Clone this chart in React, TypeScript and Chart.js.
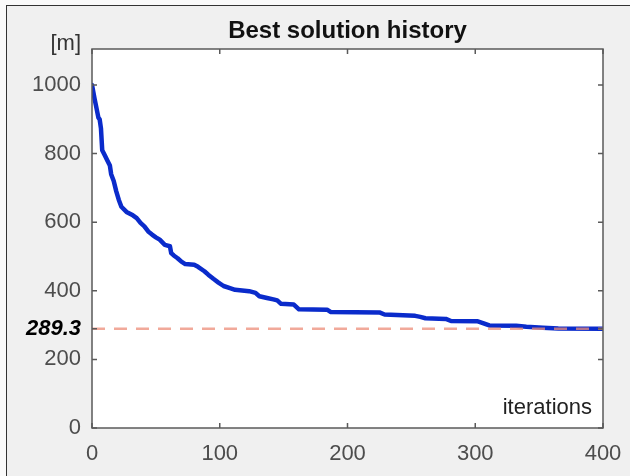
import React, { useEffect, useRef } from "react";
import { Chart, registerables } from "chart.js";

Chart.register(...registerables);

const iterations = [0, 2, 3, 5, 6, 7, 8, 10, 12, 14, 15, 17, 19, 21, 23, 27, 32, 35, 38, 41, 44, 47, 50, 53, 57, 61, 62, 64, 67, 70, 73, 80, 83, 88, 91, 95, 99, 103, 108, 112, 123, 128, 131, 137, 142, 145, 148, 158, 162, 184, 187, 225, 229, 253, 257, 261, 277, 281, 302, 306, 311, 332, 340, 353, 365, 400];
const bestLength = [1000, 960, 942, 905, 900, 874, 810, 795, 780, 765, 740, 720, 690, 665, 645, 630, 620, 612, 598, 588, 573, 564, 556, 549, 534, 530, 510, 503, 495, 485, 478, 476, 470, 457, 447, 435, 424, 414, 408, 403, 399, 394, 384, 379, 375, 372, 362, 360, 346, 345, 338, 337, 331, 327, 324, 320, 318, 312, 311, 306, 299, 298, 295, 292, 289.8, 289.3];
const bestValue = 289.3;
const xTicks = [0, 100, 200, 300, 400];
const yTicks = [0, 200, bestValue, 400, 600, 800, 1000];
const titleText = "Best solution history";
const yUnitText = "[m]";
const xLabelText = "iterations";

const FAMILY = '"Liberation Sans", Arial, Helvetica, sans-serif';

export default function App() {
  const ref = useRef<HTMLCanvasElement | null>(null);

  useEffect(() => {
    const canvas = ref.current;
    if (!canvas) return;

    const framePlugin = {
      id: "framePlugin",
      beforeDatasetsDraw(chart: any) {
        const { ctx, chartArea } = chart;
        ctx.save();
        ctx.fillStyle = "#ffffff";
        ctx.fillRect(chartArea.left, chartArea.top, chartArea.right - chartArea.left, chartArea.bottom - chartArea.top);
        ctx.restore();
      },
      afterDatasetsDraw(chart: any) {
        const { ctx, chartArea, scales } = chart;
        const { left, right, top, bottom } = chartArea;
        ctx.save();
        ctx.strokeStyle = "#5a5a5a";
        ctx.lineWidth = 1.5;
        ctx.strokeRect(left, top, right - left, bottom - top);
        const tl = 5;
        ctx.beginPath();
        scales.x.ticks.forEach((t: any) => {
          const px = scales.x.getPixelForValue(t.value);
          ctx.moveTo(px, bottom);
          ctx.lineTo(px, bottom - tl);
          ctx.moveTo(px, top);
          ctx.lineTo(px, top + tl);
        });
        scales.y.ticks.forEach((t: any) => {
          const py = scales.y.getPixelForValue(t.value);
          ctx.moveTo(left, py);
          ctx.lineTo(left + tl, py);
          ctx.moveTo(right, py);
          ctx.lineTo(right - tl, py);
        });
        ctx.stroke();

        ctx.fillStyle = "#111111";
        ctx.font = `bold 24px ${FAMILY}`;
        ctx.textAlign = "center";
        ctx.textBaseline = "alphabetic";
        ctx.fillText(titleText, (left + right) / 2, 38);

        ctx.fillStyle = "#333333";
        ctx.font = `22px ${FAMILY}`;
        ctx.textAlign = "right";
        ctx.textBaseline = "middle";
        ctx.fillText(yUnitText, 81, 44);

        ctx.fillStyle = "#222222";
        ctx.textAlign = "right";
        ctx.textBaseline = "alphabetic";
        ctx.fillText(xLabelText, right - 11, bottom - 14);
        ctx.restore();
      },
    };

    const chart = new Chart(canvas, {
      type: "line",
      data: {
        datasets: [
          {
            label: "best",
            data: iterations.map((x, i) => ({ x, y: bestLength[i] })),
            borderColor: "#0a2bcb",
            borderWidth: 4.5,
            borderJoinStyle: "round",
            borderCapStyle: "round",
            pointRadius: 0,
            tension: 0,
            fill: false,
            order: 2,
          },
          {
            label: "optimum",
            data: [
              { x: xTicks[0], y: bestValue },
              { x: xTicks[xTicks.length - 1], y: bestValue },
            ],
            borderColor: "rgba(236, 140, 120, 0.75)",
            borderWidth: 2.5,
            borderDash: [13, 9],
            pointRadius: 0,
            fill: false,
            order: 1,
          },
        ],
      },
      options: {
        animation: false,
        responsive: false,
        devicePixelRatio: 1,
        layout: { padding: { left: 0, right: 27, top: 49, bottom: 0 } },
        plugins: {
          legend: { display: false },
          tooltip: { enabled: false },
          title: { display: false },
        },
        scales: {
          x: {
            type: "linear",
            min: 0,
            max: 400,
            afterBuildTicks(scale: any) {
              scale.ticks = xTicks.map((v) => ({ value: v }));
            },
            afterFit(scale: any) {
              scale.height = 48;
              scale.paddingLeft = 0;
              scale.paddingRight = 0;
            },
            ticks: {
              padding: 13,
              maxRotation: 0,
              color: "#4d4d4d",
              font: { family: FAMILY, size: 22 },
              callback: (v: any) => String(v),
            },
            grid: { display: false, drawTicks: false },
            border: { display: false },
          },
          y: {
            type: "linear",
            min: 0,
            max: 1105,
            afterBuildTicks(scale: any) {
              scale.ticks = yTicks.map((v) => ({ value: v }));
            },
            afterFit(scale: any) {
              scale.width = 92;
              scale.paddingTop = 0;
              scale.paddingBottom = 0;
            },
            ticks: {
              padding: 11,
              color: (ctx: any) => (ctx.tick && ctx.tick.value === bestValue ? "#000000" : "#4d4d4d"),
              font: (ctx: any) =>
                ctx.tick && ctx.tick.value === bestValue
                  ? { family: FAMILY, size: 22, weight: "bold", style: "italic" }
                  : { family: FAMILY, size: 22 },
              callback: (v: any) => String(v),
            },
            grid: { display: false, drawTicks: false },
            border: { display: false },
          },
        },
      },
      plugins: [framePlugin],
    });

    return () => chart.destroy();
  }, []);

  return (
    <div style={{ position: "fixed", left: 0, top: 0, width: 630, height: 476, overflow: "hidden", background: "#fafafa" }}>
      <div
        style={{
          position: "absolute",
          left: 6,
          top: 5,
          width: 640,
          height: 490,
          border: "1.5px solid #333",
          background: "#f0f0f0",
          boxSizing: "border-box",
        }}
      />
      <canvas ref={ref} width={630} height={476} style={{ position: "absolute", left: 0, top: 0, width: 630, height: 476 }} />
    </div>
  );
}
